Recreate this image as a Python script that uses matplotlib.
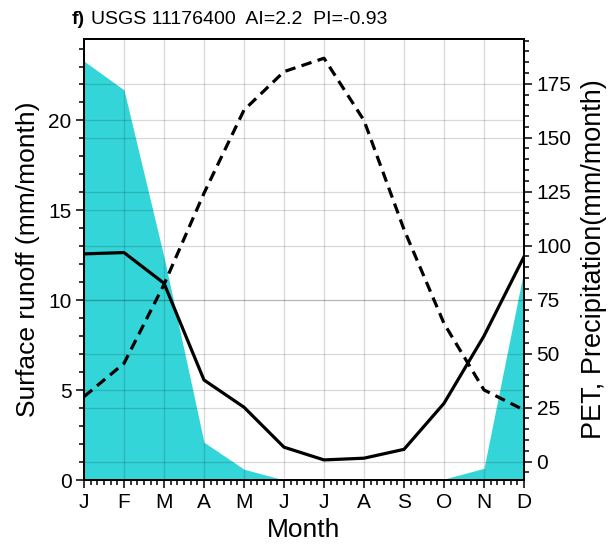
import matplotlib
matplotlib.use('Agg')
import matplotlib.pyplot as plt
from matplotlib.ticker import MultipleLocator

plt.rcParams['font.family'] = ['Liberation Sans', 'DejaVu Sans']

months = ['J', 'F', 'M', 'A', 'M', 'J', 'J', 'A', 'S', 'O', 'N', 'D']
runoff = [23.3, 21.7, 12.4, 2.1, 0.6, 0.0, 0.0, 0.0, 0.0, 0.05, 0.65, 11.7]
precip = [96.2, 96.8, 82.6, 37.8, 25.2, 6.7, 0.8, 1.6, 5.7, 27.0, 58.2, 94.9]
pet = [30.1, 45.5, 82.0, 124.3, 162.8, 180.6, 186.8, 158.0, 107.5, 64.0, 33.2, 23.9]
title = 'USGS 11176400  AI=2.2  PI=-0.93'

x = list(range(len(months)))

fig = plt.figure(figsize=(6.15, 5.45), dpi=100)
ax = fig.add_axes([84 / 615, 1 - 480 / 545, 440 / 615, 441 / 545])
ax2 = ax.twinx()

# runoff as a filled area on the left axis
ax.fill_between(x, runoff, 0, color='#34D5D8', lw=0, zorder=1)
ax.set_xlim(0, 11)
ax.set_ylim(0, 24.53)
ax.set_axisbelow(False)
ax.grid(True, which='major', color='black', alpha=0.15, lw=0.9)

# PET and precipitation on the right axis
ax2.plot(x, precip, color='black', lw=2.3, solid_joinstyle='miter')
ax2.plot(x, pet, color='black', lw=2.3, dashes=(3.3, 2.0))
ax2.set_ylim(-8.5, 195.7)
ax2.grid(True, axis='y', which='major', color='black', alpha=0.15, lw=0.9)

ax.set_xticks(x)
ax.set_xticklabels(months)
ax.xaxis.set_minor_locator(MultipleLocator(1 / 6))
ax.yaxis.set_major_locator(MultipleLocator(5))
ax.yaxis.set_minor_locator(MultipleLocator(1))
ax2.yaxis.set_major_locator(MultipleLocator(25))
ax2.yaxis.set_minor_locator(MultipleLocator(5))
ax2.set_yticks([0, 25, 50, 75, 100, 125, 150, 175])

for a in (ax, ax2):
    a.tick_params(which='major', direction='out', length=6, width=1.1, labelsize=15, pad=3)
    a.tick_params(which='minor', direction='out', length=3.5, width=1.1)
    for s in a.spines.values():
        s.set_linewidth(1.3)
ax.tick_params(which='both', top=False, right=False)
ax2.tick_params(which='both', left=False, right=True)

ax.set_xlabel('Month', fontsize=19, labelpad=5)
ax.set_ylabel('Surface runoff (mm/month)', fontsize=19, labelpad=6)
ax2.set_ylabel('PET, Precipitation(mm/month)', fontsize=19.5, labelpad=7)

fig.text(72 / 615, 1 - 19 / 545, 'f)', fontsize=14, fontweight='bold', va='center', ha='left')
fig.text(91 / 615, 1 - 19 / 545, title, fontsize=14, va='center', ha='left')

fig.savefig('out.png', dpi=100)
